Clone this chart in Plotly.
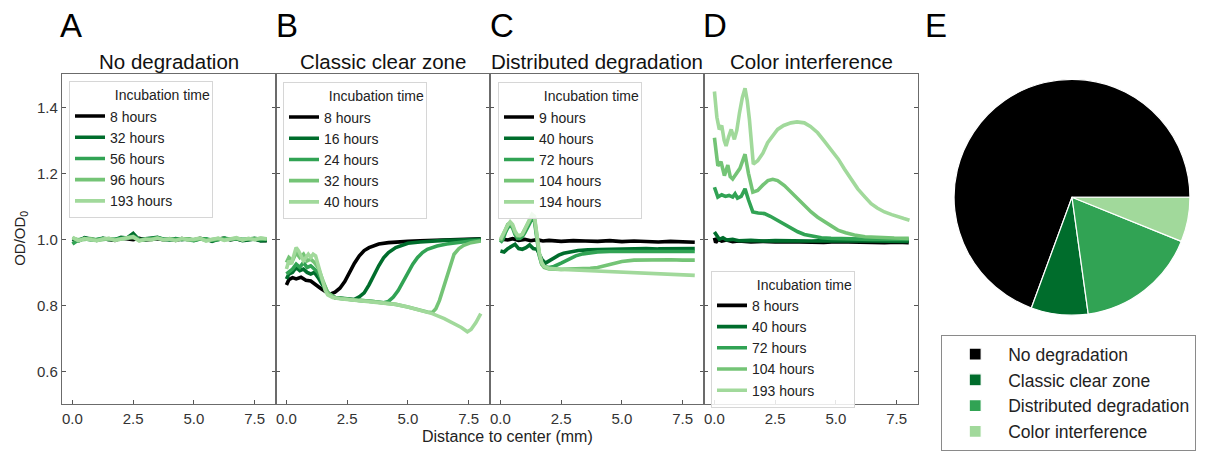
import plotly.graph_objects as go

FONT = "Liberation Sans, Arial, Helvetica, sans-serif"
W, H = 1205, 451

# ---------------- data ----------------
colors5 = ["#000000", "#006d2c", "#31a354", "#74c476", "#a1d99b"]
panel_titles = ["No degradation", "Classic clear zone", "Distributed degradation", "Color interference"]
panel_letters = ["A", "B", "C", "D", "E"]
legend_title = "Incubation time"

a_labels = ["8 hours", "32 hours", "56 hours", "96 hours", "193 hours"]
b_labels = ["8 hours", "16 hours", "24 hours", "32 hours", "40 hours"]
c_labels = ["9 hours", "40 hours", "72 hours", "104 hours", "194 hours"]
d_labels = ["8 hours", "40 hours", "72 hours", "104 hours", "193 hours"]

# Panel A: no degradation
a_x = [0, 0.25, 0.5, 0.75, 1.0, 1.25, 1.5, 1.75, 2.0, 2.25, 2.5, 2.75, 3.0, 3.25, 3.5, 3.75, 4.0,
       4.25, 4.5, 4.75, 5.0, 5.25, 5.5, 5.75, 6.0, 6.25, 6.5, 6.75, 7.0, 7.25, 7.5, 7.75, 8.0]
a_8h = [1.0, 0.997, 1.003, 1.001, 0.998, 1.002, 1.0, 0.997, 1.004, 1.002, 0.999, 1.003, 0.998, 1.0, 1.002, 0.999,
        1.001, 0.997, 1.002, 1.0, 0.998, 1.003, 1.0, 0.996, 1.001, 1.003, 0.999, 1.001, 0.998, 1.0, 1.002, 0.997, 0.996]
a_32h = [1.002, 0.995, 1.005, 1.0, 0.997, 1.003, 1.001, 0.999, 1.006, 1.004, 1.018, 0.998, 1.002, 1.004, 1.006, 1.0,
         0.998, 1.002, 0.999, 1.001, 0.997, 1.002, 1.001, 0.994, 1.0, 1.003, 0.999, 1.002, 0.996, 0.998, 1.001, 0.995, 0.997]
a_56h = [0.986, 0.999, 1.002, 0.998, 1.0, 1.003, 0.999, 1.001, 1.003, 1.005, 1.01, 1.0, 0.999, 1.003, 1.005, 1.001,
         0.999, 1.001, 1.002, 0.999, 0.996, 1.001, 1.002, 0.997, 0.999, 1.004, 1.0, 1.002, 1.0, 1.001, 1.003, 1.0, 1.001]
a_96h = [1.004, 0.998, 1.0, 1.002, 0.997, 0.999, 1.002, 0.998, 1.001, 1.004, 1.006, 0.997, 1.0, 1.001, 1.003, 0.998,
         1.002, 0.998, 1.001, 1.002, 0.999, 1.002, 0.997, 1.0, 1.002, 0.999, 1.002, 1.003, 0.999, 1.002, 1.0, 1.003, 1.001]
a_193h = [1.006, 0.996, 1.002, 0.998, 0.996, 1.001, 1.003, 0.997, 1.002, 1.005, 1.008, 0.995, 1.001, 0.998, 1.004, 0.999,
          1.001, 0.996, 1.003, 0.998, 1.0, 1.004, 0.995, 0.999, 1.004, 0.997, 1.001, 1.005, 0.998, 1.003, 0.999, 1.004, 1.002]

# Panel B: classic clear zone
b_8h_x = [0, 0.1, 0.25, 0.4, 0.6, 0.8, 1.0, 1.2, 1.4, 1.6, 1.8, 2.0, 2.2, 2.4, 2.6, 2.8, 3.0, 3.2, 3.4, 3.6, 3.8,
          4.2, 4.6, 5.0, 5.5, 6.0, 6.5, 7.0, 7.5, 8.0]
b_8h_y = [0.862, 0.878, 0.884, 0.88, 0.885, 0.876, 0.874, 0.862, 0.852, 0.842, 0.834, 0.84, 0.852, 0.872, 0.9, 0.928,
          0.95, 0.966, 0.975, 0.982, 0.986, 0.99, 0.993, 0.994, 0.996, 0.997, 0.998, 0.999, 1.001, 1.002]
b_16h_x = [0, 0.1, 0.25, 0.4, 0.55, 0.7, 0.85, 1.0, 1.15, 1.3, 1.5, 1.7, 2.0, 2.4, 2.8, 3.0, 3.2, 3.4, 3.6, 3.8, 4.0,
           4.2, 4.5, 5.0, 5.5, 6.0, 6.5, 7.0, 7.5, 8.0]
b_16h_y = [0.88, 0.895, 0.9, 0.915, 0.905, 0.91, 0.9, 0.895, 0.9, 0.885, 0.86, 0.835, 0.824, 0.82, 0.818, 0.826,
           0.838, 0.862, 0.893, 0.92, 0.944, 0.96, 0.975, 0.988, 0.992, 0.995, 0.997, 0.998, 0.999, 1.0]
b_24h_x = [0, 0.1, 0.25, 0.4, 0.55, 0.7, 0.85, 1.0, 1.15, 1.3, 1.5, 1.7, 2.0, 2.5, 3.0, 3.5, 4.0, 4.2, 4.4, 4.6, 4.8,
           5.0, 5.2, 5.4, 5.6, 5.8, 6.2, 6.6, 7.0, 7.5, 8.0]
b_24h_y = [0.895, 0.9, 0.91, 0.925, 0.915, 0.93, 0.915, 0.92, 0.91, 0.9, 0.87, 0.838, 0.823, 0.818, 0.815, 0.812,
           0.808, 0.812, 0.825, 0.845, 0.872, 0.9, 0.925, 0.945, 0.96, 0.97, 0.98, 0.986, 0.99, 0.994, 0.997]
b_32h_x = [0, 0.1, 0.25, 0.4, 0.55, 0.7, 0.85, 1.0, 1.15, 1.3, 1.5, 1.7, 2.0, 2.5, 3.0, 3.5, 4.0, 4.5, 5.0, 5.5, 5.8,
           6.0, 6.15, 6.3, 6.45, 6.6, 6.75, 6.9, 7.1, 7.3, 7.6, 8.0]
b_32h_y = [0.93, 0.945, 0.935, 0.96, 0.945, 0.955, 0.935, 0.94, 0.93, 0.915, 0.875, 0.838, 0.823, 0.818, 0.815,
           0.812, 0.808, 0.803, 0.795, 0.785, 0.78, 0.778, 0.79, 0.815, 0.85, 0.89, 0.925, 0.955, 0.972, 0.982, 0.99, 0.995]
b_40h_x = [0, 0.1, 0.2, 0.3, 0.4, 0.5, 0.6, 0.7, 0.8, 0.9, 1.0, 1.1, 1.2, 1.3, 1.4, 1.5, 1.6, 1.7, 1.9, 2.2, 2.5,
           3.0, 3.5, 4.0, 4.5, 5.0, 5.5, 6.0, 6.5, 7.0, 7.2, 7.45, 7.6, 7.8, 8.0]
b_40h_y = [0.91, 0.935, 0.925, 0.95, 0.975, 0.965, 0.95, 0.935, 0.945, 0.955, 0.945, 0.955, 0.95, 0.925, 0.9, 0.87,
           0.845, 0.832, 0.824, 0.82, 0.818, 0.815, 0.812, 0.808, 0.803, 0.795, 0.785, 0.775, 0.76, 0.742, 0.733,
           0.72, 0.727, 0.748, 0.775]

# Panel C: distributed degradation
c_9h_x = [0, 0.15, 0.3, 0.5, 0.75, 1.0, 1.25, 1.5, 1.75, 2.0, 2.5, 3.0, 3.5, 4.0, 4.5, 5.0, 5.5, 6.0, 6.5, 7.0, 7.5, 8.0]
c_9h_y = [0.997, 1.0, 0.998, 1.002, 0.997, 1.0, 0.996, 0.999, 0.995, 0.997, 0.994, 0.996, 0.995, 0.994, 0.996,
          0.993, 0.995, 0.994, 0.992, 0.994, 0.992, 0.991]
c_40h_x = [0, 0.15, 0.3, 0.45, 0.6, 0.75, 0.9, 1.05, 1.2, 1.35, 1.5, 1.6, 1.7, 1.85, 2.0, 2.2, 2.4, 2.6, 2.9, 3.2,
           3.6, 4.0, 4.5, 5.0, 5.5, 6.0, 6.5, 7.0, 7.5, 8.0]
c_40h_y = [0.965, 0.962, 0.972, 0.978, 0.985, 0.972, 0.97, 0.975, 0.983, 0.972, 0.97, 0.955, 0.94, 0.928, 0.935,
           0.945, 0.952, 0.958, 0.963, 0.966, 0.968, 0.969, 0.97, 0.971, 0.971, 0.972, 0.971, 0.972, 0.971, 0.972]
c_late_x = [0, 0.1, 0.2, 0.3, 0.4, 0.5, 0.6, 0.7, 0.8, 0.9, 1.0, 1.1, 1.2, 1.3, 1.4, 1.5, 1.6, 1.7, 1.8, 2.0, 2.2,
            2.5, 2.8, 3.1, 3.4, 3.7, 4.0, 4.5, 5.0, 5.5, 6.0, 6.5, 7.0, 7.5, 8.0]
c_72h_y = [0.99, 1.0, 1.02, 1.035, 1.043, 1.035, 1.015, 1.003, 1.003, 1.008, 1.02, 1.035, 1.05, 1.062, 1.055, 1.0,
           0.95, 0.925, 0.918, 0.915, 0.918, 0.928, 0.94, 0.95, 0.956, 0.96, 0.962, 0.963, 0.963, 0.964, 0.963,
           0.964, 0.963, 0.963, 0.963]
c_104h_y = [0.995, 1.01, 1.03, 1.045, 1.05, 1.04, 1.02, 1.01, 1.01, 1.015, 1.03, 1.045, 1.06, 1.072, 1.065, 1.01,
            0.955, 0.925, 0.915, 0.91, 0.909, 0.909, 0.91, 0.91, 0.911, 0.912, 0.915, 0.925, 0.933, 0.937, 0.938,
            0.939, 0.938, 0.937, 0.937]
c_194h_y = [1.0, 1.015, 1.03, 1.043, 1.053, 1.045, 1.025, 1.013, 1.012, 1.016, 1.03, 1.045, 1.062, 1.076, 1.07,
            1.02, 0.96, 0.93, 0.918, 0.912, 0.91, 0.909, 0.908, 0.907, 0.906, 0.905, 0.904, 0.902, 0.9, 0.898,
            0.897, 0.895, 0.894, 0.892, 0.891]

# Panel D: color interference
d_8h_x = [0, 0.05, 0.15, 0.3, 0.5, 0.75, 1.0, 1.5, 2.0, 2.5, 3.0, 3.5, 4.0, 4.5, 5.0, 5.5, 6.0, 6.5, 7.0, 7.5, 8.0]
d_8h_y = [1.005, 0.99, 1.0, 0.995, 0.998, 0.993, 0.995, 0.992, 0.994, 0.992, 0.993, 0.992, 0.993, 0.991, 0.993,
          0.992, 0.991, 0.992, 0.99, 0.991, 0.99]
d_40h_x = [0, 0.1, 0.2, 0.35, 0.5, 0.75, 1.0, 1.5, 2.0, 2.5, 3.0, 3.5, 4.0, 4.5, 5.0, 5.5, 6.0, 6.5, 7.0, 7.5, 8.0]
d_40h_y = [1.022, 1.012, 1.0, 1.005, 0.998, 1.0, 0.996, 0.997, 0.995, 0.996, 0.995, 0.996, 0.995, 0.996, 0.995,
           0.996, 0.995, 0.995, 0.994, 0.995, 0.994]
d_72h_x = [0, 0.14, 0.3, 0.45, 0.6, 0.75, 0.85, 0.95, 1.1, 1.26, 1.4, 1.58, 1.8, 2.06, 2.3, 2.47, 2.7, 2.88, 3.2,
           3.43, 3.7, 3.98, 4.4, 4.8, 5.5, 6.5, 8.0]
d_72h_y = [1.158, 1.128, 1.135, 1.13, 1.133, 1.128, 1.138, 1.125, 1.13, 1.153, 1.12, 1.083, 1.08, 1.078, 1.07,
           1.063, 1.052, 1.043, 1.032, 1.023, 1.015, 1.01, 1.005, 1.003, 1.001, 1.0, 1.0]
d_104h_x = [0, 0.14, 0.27, 0.41, 0.55, 0.65, 0.75, 0.9, 1.05, 1.26, 1.4, 1.58, 1.78, 2.0, 2.2, 2.4, 2.6, 2.88, 3.15,
            3.43, 3.7, 3.98, 4.25, 4.53, 4.8, 5.08, 5.4, 5.76, 6.2, 6.8, 7.4, 8.0]
d_104h_y = [1.308, 1.223, 1.235, 1.193, 1.225, 1.19, 1.183, 1.2, 1.215, 1.258, 1.2, 1.143, 1.148, 1.165, 1.178,
            1.182, 1.178, 1.163, 1.143, 1.123, 1.103, 1.083, 1.067, 1.053, 1.04, 1.028, 1.02, 1.013, 1.008, 1.005,
            1.004, 1.003]
d_193h_x = [0, 0.1, 0.2, 0.3, 0.4, 0.48, 0.58, 0.69, 0.82, 0.92, 1.03, 1.15, 1.26, 1.35, 1.44, 1.52, 1.6, 1.78, 2.0,
            2.19, 2.4, 2.6, 2.85, 3.15, 3.4, 3.7, 3.95, 4.25, 4.5, 4.8, 5.1, 5.35, 5.6, 5.9, 6.2, 6.45, 6.7, 7.0,
            7.3, 7.55, 7.8, 8.03]
d_193h_y = [1.448, 1.37, 1.333, 1.345, 1.3, 1.283, 1.31, 1.333, 1.303, 1.33, 1.383, 1.43, 1.458, 1.42, 1.363, 1.28,
            1.228, 1.238, 1.262, 1.293, 1.315, 1.333, 1.345, 1.353, 1.356, 1.353, 1.342, 1.323, 1.3, 1.273, 1.243,
            1.213, 1.185, 1.153, 1.128, 1.108, 1.095, 1.083, 1.075, 1.068, 1.063, 1.058]

# Panel E: pie of categories (percent)
pie_labels = ["No degradation", "Classic clear zone", "Distributed degradation", "Color interference"]
pie_values = [69.4, 7.8, 16.7, 6.1]
pie_colors = ["#000000", "#006d2c", "#31a354", "#a1d99b"]

x_tick_vals = [0.0, 2.5, 5.0, 7.5]
y_tick_vals = [0.6, 0.8, 1.0, 1.2, 1.4]
x_range = [-0.43, 8.38]
y_range = [0.5, 1.5]

panels = [
    (a_labels, [(a_x, a_8h), (a_x, a_32h), (a_x, a_56h), (a_x, a_96h), (a_x, a_193h)]),
    (b_labels, [(b_8h_x, b_8h_y), (b_16h_x, b_16h_y), (b_24h_x, b_24h_y), (b_32h_x, b_32h_y), (b_40h_x, b_40h_y)]),
    (c_labels, [(c_9h_x, c_9h_y), (c_40h_x, c_40h_y), (c_late_x, c_72h_y), (c_late_x, c_104h_y), (c_late_x, c_194h_y)]),
    (d_labels, [(d_8h_x, d_8h_y), (d_40h_x, d_40h_y), (d_72h_x, d_72h_y), (d_104h_x, d_104h_y), (d_193h_x, d_193h_y)]),
]

# ---------------- layout helpers ----------------
def px(x):
    return x / W

def py(y):
    return 1 - y / H

panel_left = [62, 276, 490, 704]
panel_w = 214
plot_top, plot_bottom = 75, 408
legend_pos = [(69, 82), (283, 83), (498, 83), (711, 273)]

fig = go.Figure()
layout = dict(
    width=W, height=H,
    margin=dict(l=0, r=0, t=0, b=0),
    paper_bgcolor="white", plot_bgcolor="white",
    font=dict(family=FONT, color="#222", size=15),
    annotations=[],
)

axis_common = dict(
    showline=True, linecolor="#6b6b6b", linewidth=1.3,
    ticks="inside", ticklen=4, tickwidth=1, tickcolor="#555",
    showgrid=False, zeroline=False,
    tickfont=dict(family=FONT, size=15, color="#333"),
)

# title indented so that it lines up with the entry labels
legend_title_text = "\u00a0" * 11 + legend_title

for i, (labels, series) in enumerate(panels):
    n = i + 1
    xa = "x" if n == 1 else f"x{n}"
    ya = "y" if n == 1 else f"y{n}"
    lg = "legend" if n == 1 else f"legend{n}"
    for j, ((xs, ys), lab) in enumerate(zip(series, labels)):
        fig.add_trace(go.Scatter(
            x=xs, y=ys, mode="lines", name=lab,
            line=dict(color=colors5[j], width=3.6),
            xaxis=xa, yaxis=ya, legend=lg,
        ))
    x0 = panel_left[i]
    layout["xaxis" if n == 1 else f"xaxis{n}"] = dict(
        axis_common, domain=[px(x0), px(x0 + panel_w)], range=x_range,
        tickvals=x_tick_vals, tickformat=".1f", mirror=True,
        anchor=ya,
    )
    layout["yaxis" if n == 1 else f"yaxis{n}"] = dict(
        axis_common, domain=[py(plot_bottom), py(plot_top)], range=y_range,
        tickvals=y_tick_vals, tickformat=".1f", mirror="ticks",
        showticklabels=(n == 1), anchor=xa,
    )
    lx, ly = legend_pos[i]
    layout[lg] = dict(
        x=px(lx), y=py(ly), xanchor="left", yanchor="top",
        bgcolor="rgba(255,255,255,0.85)", bordercolor="#d6d6d6", borderwidth=1,
        font=dict(family=FONT, size=14, color="#222"),
        title=dict(text=legend_title_text, side="top", font=dict(family=FONT, size=14, color="#222")),
        itemwidth=30, tracegroupgap=0,
    )
    # panel title
    layout["annotations"].append(dict(
        text=panel_titles[i], x=px(x0 + panel_w / 2), y=py(62), xref="paper", yref="paper",
        xanchor="center", yanchor="middle", showarrow=False,
        font=dict(family=FONT, size=20.5, color="#111"),
    ))

# panel letters
letter_x = [58, 274, 488, 701, 923]
for lx, letter in zip(letter_x, panel_letters):
    layout["annotations"].append(dict(
        text=letter, x=px(lx), y=py(26), xref="paper", yref="paper",
        xanchor="left", yanchor="middle", showarrow=False,
        font=dict(family=FONT, size=33, color="#000"),
    ))

# axis titles
layout["annotations"].append(dict(
    text="Distance to center (mm)", x=px(507), y=py(440), xref="paper", yref="paper",
    xanchor="center", yanchor="middle", showarrow=False,
    font=dict(family=FONT, size=16, color="#222"),
))
layout["annotations"].append(dict(
    text="OD/OD<sub>0</sub>", x=px(21), y=py(241), xref="paper", yref="paper",
    xanchor="center", yanchor="middle", showarrow=False, textangle=-90,
    font=dict(family=FONT, size=15, color="#222"),
))

# pie: first slice (black) starts at 3 o'clock and runs counterclockwise
cx, cy, r = 1072, 199, 119
pie_rotation = 90 - 360 * pie_values[0] / sum(pie_values)
fig.add_trace(go.Pie(
    labels=pie_labels, values=pie_values, sort=False,
    direction="counterclockwise", rotation=pie_rotation,
    marker=dict(colors=pie_colors, line=dict(color="white", width=1.2)),
    textinfo="none", domain=dict(x=[px(cx - r), px(cx + r)], y=[py(cy + r), py(cy - r)]),
    legend="legend5", showlegend=True,
))
layout["legend5"] = dict(
    x=px(941), y=py(338), xanchor="left", yanchor="top",
    bgcolor="white", bordercolor="#8a8a8a", borderwidth=1.2,
    font=dict(family=FONT, size=17.5, color="#222"),
    itemwidth=56,
)

fig.update_layout(**layout)
fig.write_html(
    "out.html",
    config={"displayModeBar": False},
    post_script="document.body.style.margin='0px';document.body.style.overflow='hidden';",
)
